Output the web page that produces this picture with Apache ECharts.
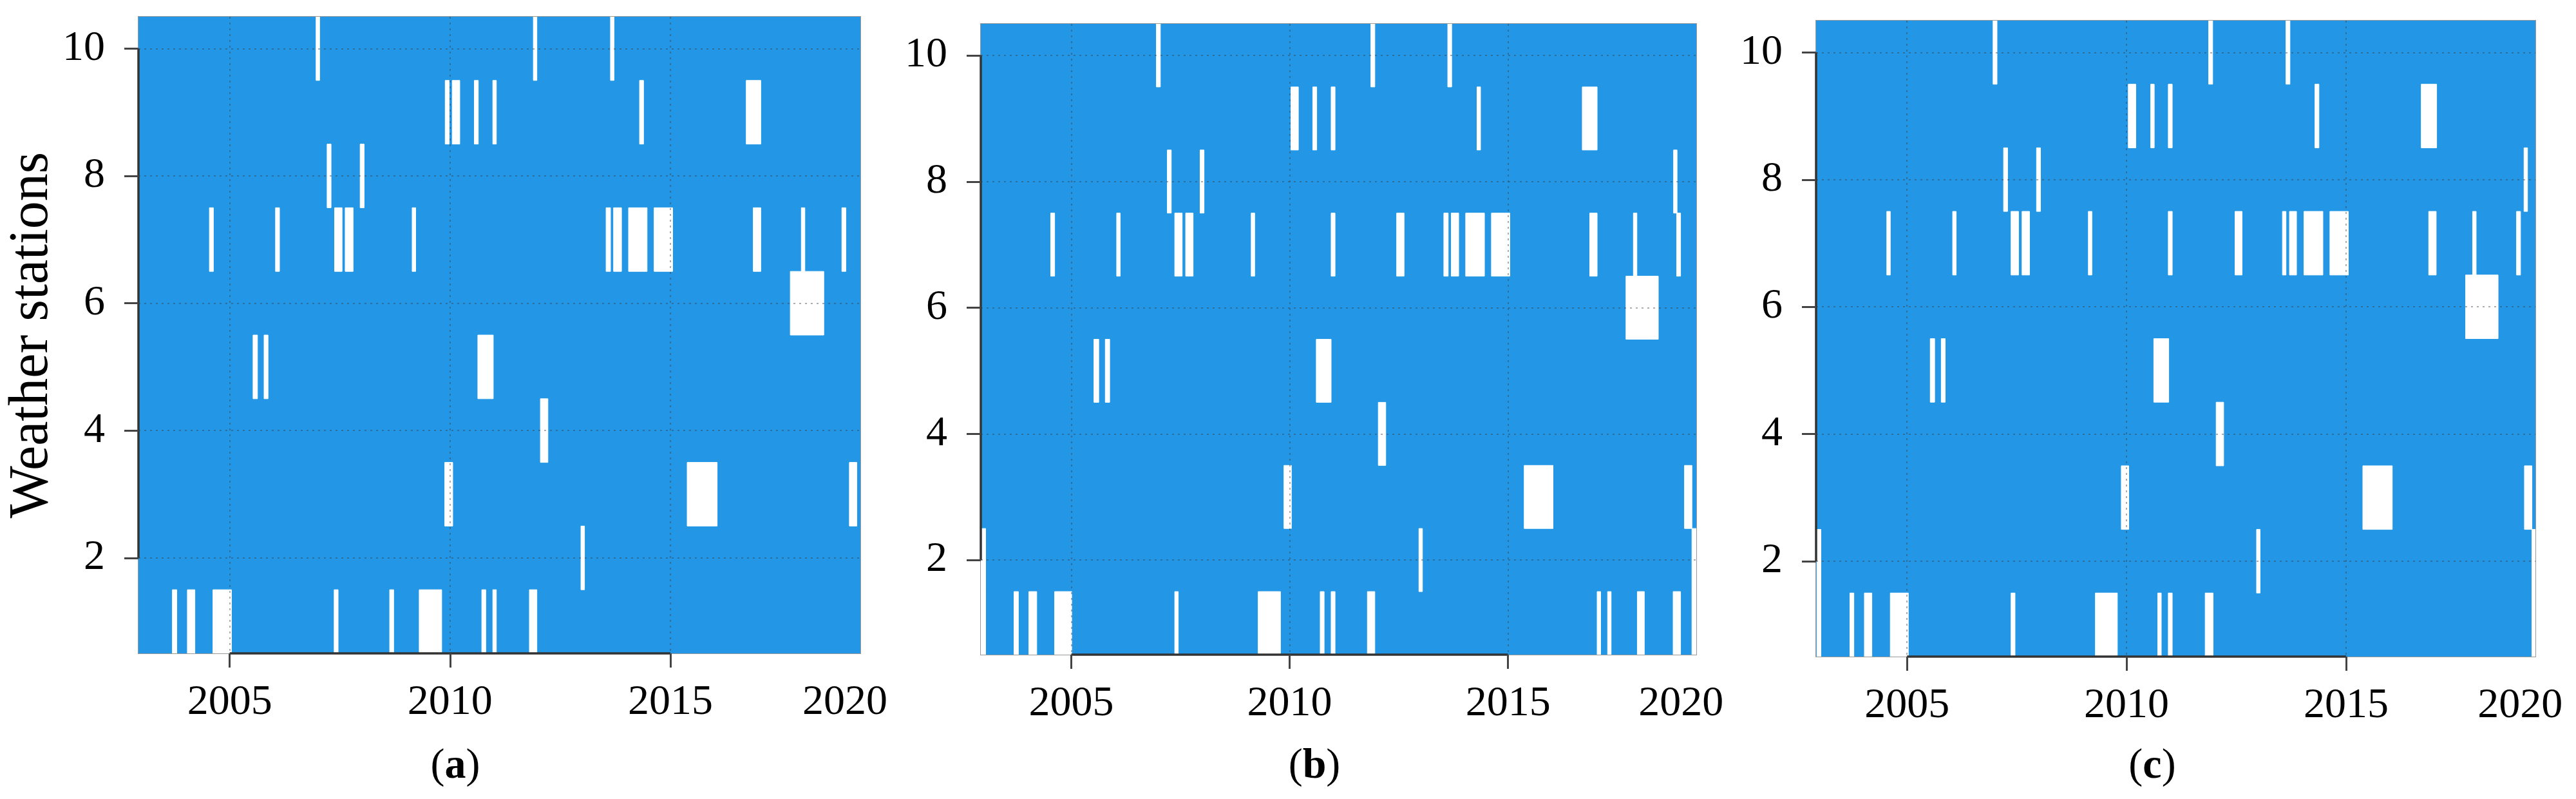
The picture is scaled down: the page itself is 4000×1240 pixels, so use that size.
<!DOCTYPE html>
<html><head><meta charset="utf-8">
<script src="https://cdn.jsdelivr.net/npm/echarts@6/dist/echarts.min.js"></script>
<style>html,body{margin:0;padding:0;background:#fff}#c{width:4000px;height:1240px}</style>
</head><body><div id="c"></div>
<script>
// ---- data ----
const stations = [1, 2, 3, 4, 5, 6, 7, 8, 9, 10];
const xRange = [2002.93, 2019.31];
const xTickValues = [2005, 2010, 2015];
const xTickLabels = ['2005', '2010', '2015', '2020'];
const yTickValues = [2, 4, 6, 8, 10];
const panelLabels = ['a', 'b', 'c'];
const yAxisTitle = 'Weather stations';

// missing-data gaps: [station, start year, end year]
const gapsA = [
  [10, 2006.96, 2007.04], [10, 2011.89, 2011.97], [10, 2013.64, 2013.72],
  [9, 2009.89, 2009.98], [9, 2010.05, 2010.22], [9, 2010.55, 2010.64], [9, 2010.97, 2011.05], [9, 2014.30, 2014.39], [9, 2016.72, 2017.05],
  [8, 2007.21, 2007.30], [8, 2007.96, 2008.05],
  [7, 2004.54, 2004.63], [7, 2006.04, 2006.13], [7, 2007.38, 2007.55], [7, 2007.62, 2007.80], [7, 2009.14, 2009.22],
  [7, 2013.54, 2013.64], [7, 2013.71, 2013.89], [7, 2014.05, 2014.47], [7, 2014.63, 2015.05], [7, 2016.88, 2017.05],
  [7, 2017.97, 2018.05], [7, 2018.89, 2018.98],
  [6, 2017.72, 2018.48],
  [5, 2005.53, 2005.63], [5, 2005.78, 2005.87], [5, 2010.63, 2010.98],
  [4, 2012.05, 2012.22],
  [3, 2009.88, 2010.06], [3, 2015.38, 2016.06], [3, 2019.06, 2019.23],
  [2, 2012.97, 2013.05],
  [1, 2003.70, 2003.80], [1, 2004.04, 2004.21], [1, 2004.62, 2005.04], [1, 2007.37, 2007.46], [1, 2008.63, 2008.72],
  [1, 2009.30, 2009.81], [1, 2010.72, 2010.81], [1, 2010.97, 2011.05], [1, 2011.80, 2011.97]
];
const gapsB = [
  [10, 2006.95, 2007.04], [10, 2011.86, 2011.95], [10, 2013.62, 2013.71],
  [9, 2010.03, 2010.20], [9, 2010.53, 2010.62], [9, 2010.95, 2011.04], [9, 2014.29, 2014.37], [9, 2016.70, 2017.04],
  [8, 2007.20, 2007.29], [8, 2007.95, 2008.04], [8, 2018.79, 2018.87],
  [7, 2004.53, 2004.62], [7, 2006.04, 2006.12], [7, 2007.37, 2007.54], [7, 2007.62, 2007.79], [7, 2009.12, 2009.20],
  [7, 2010.95, 2011.04], [7, 2012.45, 2012.62], [7, 2013.53, 2013.63], [7, 2013.70, 2013.87], [7, 2014.03, 2014.46],
  [7, 2014.62, 2015.04], [7, 2016.87, 2017.04], [7, 2017.87, 2017.95], [7, 2018.86, 2018.95],
  [6, 2017.70, 2018.44],
  [5, 2005.52, 2005.63], [5, 2005.78, 2005.88], [5, 2010.61, 2010.95],
  [4, 2012.03, 2012.20],
  [3, 2009.87, 2010.04], [3, 2015.37, 2016.03], [3, 2019.04, 2019.21],
  [2, 2002.93, 2003.04], [2, 2012.96, 2013.04], [2, 2019.21, 2019.31],
  [1, 2002.93, 2003.04], [1, 2003.69, 2003.79], [1, 2004.03, 2004.21], [1, 2004.62, 2005.01], [1, 2007.37, 2007.45],
  [1, 2009.28, 2009.79], [1, 2010.70, 2010.79], [1, 2010.95, 2011.04], [1, 2011.78, 2011.95], [1, 2017.04, 2017.12],
  [1, 2017.28, 2017.36], [1, 2017.96, 2018.12], [1, 2018.78, 2018.95], [1, 2019.21, 2019.31]
];
const gapsC = [
  [10, 2006.96, 2007.05], [10, 2011.87, 2011.96], [10, 2013.63, 2013.72],
  [9, 2010.04, 2010.21], [9, 2010.55, 2010.63], [9, 2010.95, 2011.04], [9, 2014.29, 2014.38], [9, 2016.71, 2017.06],
  [8, 2007.20, 2007.29], [8, 2007.95, 2008.04], [8, 2019.05, 2019.13],
  [7, 2004.54, 2004.62], [7, 2006.04, 2006.12], [7, 2007.37, 2007.54], [7, 2007.62, 2007.79], [7, 2009.13, 2009.21],
  [7, 2010.95, 2011.04], [7, 2012.47, 2012.63], [7, 2013.55, 2013.63], [7, 2013.71, 2013.87], [7, 2014.04, 2014.47],
  [7, 2014.63, 2015.05], [7, 2016.88, 2017.05], [7, 2017.88, 2017.96], [7, 2018.88, 2018.97],
  [6, 2017.72, 2018.46],
  [5, 2005.53, 2005.63], [5, 2005.78, 2005.87], [5, 2010.62, 2010.96],
  [4, 2012.04, 2012.21],
  [3, 2009.88, 2010.05], [3, 2015.38, 2016.05], [3, 2019.06, 2019.23],
  [2, 2002.95, 2003.04], [2, 2012.96, 2013.04], [2, 2019.23, 2019.31],
  [1, 2002.95, 2003.04], [1, 2003.70, 2003.79], [1, 2004.03, 2004.20], [1, 2004.62, 2005.03], [1, 2007.37, 2007.46],
  [1, 2009.29, 2009.79], [1, 2010.71, 2010.79], [1, 2010.95, 2011.04], [1, 2011.79, 2011.97], [1, 2019.23, 2019.31]
];
const panelGaps = [gapsA, gapsB, gapsC];

// ---- layout & style ----
const grids = [
  { left: 215, top: 26, width: 1121, height: 988 },
  { left: 1523, top: 37, width: 1111, height: 979 },
  { left: 2820, top: 32, width: 1117, height: 987 }
];
const labelPos = [[707, 1190], [2041, 1190], [3342, 1190]];
const FONT = '"Liberation Serif", "DejaVu Serif", serif';
const BLUE = '#2397E5';
const lastLabelValue = xRange[1] - 0.35;
const xLabelValues = xTickValues.concat([lastLabelValue]);

function rectRenderer(color, strokeW) {
  return function (params, api) {
    const s = api.value(0), x0 = api.value(1), x1 = api.value(2);
    const p0 = api.coord([x0, s + 0.5]);
    const p1 = api.coord([x1, s - 0.5]);
    return {
      type: 'rect',
      shape: { x: p0[0], y: p0[1], width: p1[0] - p0[0], height: p1[1] - p0[1] },
      style: { fill: color, stroke: color, lineWidth: strokeW }
    };
  };
}

const splitLineStyle = { show: true, lineStyle: { type: [3, 6], color: 'rgba(60,60,60,0.42)', width: 2 } };
const tickStyle = { show: true, length: 22, lineStyle: { color: '#444', width: 3 } };

const option = {
  animation: false,
  backgroundColor: '#fff',
  grid: grids.map(g => Object.assign({ show: true, borderColor: '#9a9a9a', borderWidth: 2, backgroundColor: 'transparent', outerBoundsMode: 'none', containLabel: false }, g)),
  xAxis: grids.map((g, i) => ({
    type: 'value', gridIndex: i, min: xRange[0], max: xRange[1], z: 5,
    axisLine: { show: false },
    axisTick: Object.assign({ customValues: xTickValues }, tickStyle),
    axisLabel: {
      customValues: xLabelValues, margin: 44, fontSize: 66, fontFamily: FONT, color: '#000',
      formatter: function (v) {
        let best = 0;
        xLabelValues.forEach((lv, k) => { if (Math.abs(lv - v) < Math.abs(xLabelValues[best] - v)) best = k; });
        return xTickLabels[best];
      }
    },
    splitLine: splitLineStyle
  })),
  yAxis: grids.map((g, i) => ({
    type: 'value', gridIndex: i, min: 0.5, max: 10.5, z: 5,
    axisLine: { show: false },
    axisTick: Object.assign({ customValues: yTickValues }, tickStyle),
    axisLabel: { customValues: yTickValues, margin: 52, fontSize: 66, fontFamily: FONT, color: '#000' },
    splitLine: splitLineStyle,
    name: i === 0 ? yAxisTitle : '',
    nameLocation: 'middle', nameRotate: 90, nameGap: 103,
    nameTextStyle: { fontSize: 86, fontFamily: FONT, color: '#000' }
  })),
  series: [],
  graphic: panelLabels.map((l, i) => ({
    type: 'text', x: labelPos[i][0], y: labelPos[i][1], z: 10,
    style: {
      text: '{p|(}{b|' + l + '}{p|)}',
      align: 'center', verticalAlign: 'middle',
      rich: {
        p: { fontSize: 66, fontFamily: FONT, fill: '#000', color: '#000' },
        b: { fontSize: 66, fontFamily: FONT, fontWeight: 'bold', fill: '#000', color: '#000' }
      }
    }
  }))
};

grids.forEach((g, i) => {
  option.series.push({
    type: 'custom', xAxisIndex: i, yAxisIndex: i, z: 1, clip: true, silent: true,
    renderItem: rectRenderer(BLUE, 2),
    encode: { x: [1, 2], y: 0 },
    data: stations.map(s => [s, xRange[0], xRange[1]])
  });
  option.series.push({
    type: 'custom', xAxisIndex: i, yAxisIndex: i, z: 2, clip: true, silent: true,
    renderItem: rectRenderer('#ffffff', 1),
    encode: { x: [1, 2], y: 0 },
    data: panelGaps[i]
  });
  option.series.push({
    type: 'line', xAxisIndex: i, yAxisIndex: i, z: 8, silent: true, showSymbol: false,
    lineStyle: { width: 0 },
    data: [[xTickValues[0], yTickValues[0]]],
    markLine: {
      symbol: 'none', silent: true, animation: false, label: { show: false },
      lineStyle: { color: '#333', width: 3.5, type: 'solid' },
      emphasis: { disabled: true },
      data: [
        [{ coord: [xTickValues[0], 0.5] }, { coord: [xTickValues[xTickValues.length - 1], 0.5] }],
        [{ coord: [xRange[0], yTickValues[0]] }, { coord: [xRange[0], yTickValues[yTickValues.length - 1]] }]
      ]
    }
  });
});

const chart = echarts.init(document.getElementById('c'), null, { renderer: 'canvas' });
chart.setOption(option);
</script>
</body></html>
